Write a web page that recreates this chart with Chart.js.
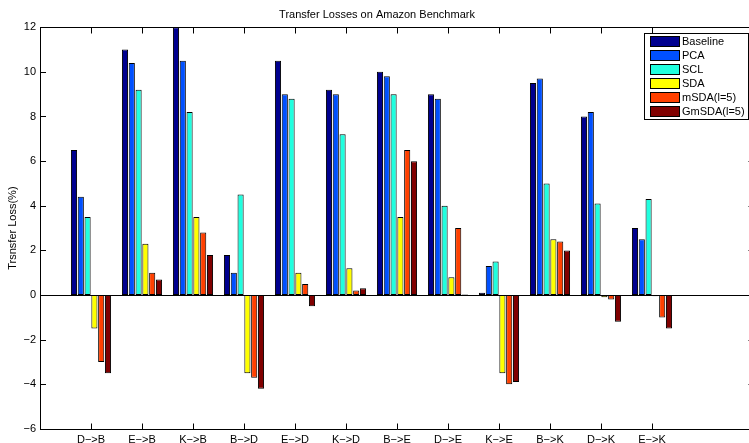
<!DOCTYPE html>
<html>
<head>
<meta charset="utf-8">
<title>Transfer Losses on Amazon Benchmark</title>
<script src="https://cdn.jsdelivr.net/npm/chart.js@4.4.1/dist/chart.umd.min.js"></script>
<style>
  html, body { margin: 0; padding: 0; background: #fff; overflow: hidden; }
</style>
</head>
<body>
<canvas id="lossChart" width="760" height="443"></canvas>
<script>
// domain adaptation pairs (source->target)
const categories = ['D\u2212>B', 'E\u2212>B', 'K\u2212>B', 'B\u2212>D', 'E\u2212>D', 'K\u2212>D',
                    'B\u2212>E', 'D\u2212>E', 'K\u2212>E', 'B\u2212>K', 'D\u2212>K', 'E\u2212>K'];

// transfer loss (%) per method
const baseline = [6.5, 11.0, 12.0, 1.8, 10.5, 9.2, 10.0, 9.0, 0.1, 9.5, 8.0, 3.0];
const pca      = [4.4, 10.4, 10.5, 1.0, 9.0, 9.0, 9.8, 8.8, 1.3, 9.7, 8.2, 2.5];
const scl      = [3.5, 9.2, 8.2, 4.5, 8.8, 7.2, 9.0, 4.0, 1.5, 5.0, 4.1, 4.3];
const sda      = [-1.5, 2.3, 3.5, -3.5, 1.0, 1.2, 3.5, 0.8, -3.5, 2.5, -0.1, -0.05];
const msda     = [-3.0, 1.0, 2.8, -3.7, 0.5, 0.2, 6.5, 3.0, -4.0, 2.4, -0.2, -1.0];
const gmsda    = [-3.5, 0.7, 1.8, -4.2, -0.5, 0.3, 6.0, 0.03, -3.9, 2.0, -1.2, -1.5];

const seriesNames = ['Baseline', 'PCA', 'SCL', 'SDA', 'mSDA(l=5)', 'GmSDA(l=5)'];
const seriesValues = [baseline, pca, scl, sda, msda, gmsda];
const seriesColors = ['#00008f', '#0050ff', '#20ffdf', '#ffff00', '#ff4000', '#800000'];

const yTicks = [-6, -4, -2, 0, 2, 4, 6, 8, 10, 12];

// matlab axis runs 0..14, so pad the category list on both ends
const xLabels = [''].concat(categories, ['', '']);
const pad = arr => [null].concat(arr, [null, null]);

const fontFamily = '"Liberation Sans", Arial, Helvetica, sans-serif';

// inward ticks, closed box, zero baseline and the boxed legend
const matlabAxes = {
  id: 'matlabAxes',
  afterDatasetsDraw(chart) {
    const ctx = chart.ctx;
    const a = chart.chartArea;
    const x = chart.scales.x;
    const y = chart.scales.y;
    const tick = 6;

    ctx.save();
    ctx.strokeStyle = '#000';
    ctx.lineWidth = 1;
    ctx.beginPath();

    const y0 = Math.round(y.getPixelForValue(0)) + 0.5;
    ctx.moveTo(a.left, y0);
    ctx.lineTo(a.right, y0);

    const top = Math.round(a.top) + 0.5;
    const right = Math.round(a.right) + 0.5;
    const bottom = Math.round(a.bottom) + 0.5;
    ctx.moveTo(a.left, top);
    ctx.lineTo(right, top);
    ctx.lineTo(right, bottom);

    yTicks.forEach(v => {
      const py = Math.round(y.getPixelForValue(v)) + 0.5;
      ctx.moveTo(a.left, py);
      ctx.lineTo(a.left + tick, py);
      ctx.moveTo(right, py);
      ctx.lineTo(right - tick, py);
    });

    categories.forEach((c, i) => {
      const px = Math.round(x.getPixelForValue(i + 1)) + 0.5;
      ctx.moveTo(px, bottom);
      ctx.lineTo(px, bottom - tick);
      ctx.moveTo(px, top);
      ctx.lineTo(px, top + tick);
    });
    ctx.stroke();

    // legend box
    const lx = 644.5, ly = 33.5, lw = 104, lh = 86;
    ctx.fillStyle = '#fff';
    ctx.fillRect(lx, ly, lw, lh);
    ctx.strokeRect(lx, ly, lw, lh);

    ctx.font = '11px ' + fontFamily;
    ctx.textBaseline = 'middle';
    ctx.textAlign = 'left';
    chart.data.datasets.forEach((ds, i) => {
      const sy = 36.5 + i * 14;
      ctx.fillStyle = ds.backgroundColor;
      ctx.fillRect(650.5, sy, 29, 10);
      ctx.strokeRect(650.5, sy, 29, 10);
      ctx.fillStyle = '#000';
      ctx.fillText(ds.label, 682, sy + 5.5);
    });
    ctx.restore();
  }
};

const ctx = document.getElementById('lossChart').getContext('2d');
const lossChart = new Chart(ctx, {
  type: 'bar',
  data: {
    labels: xLabels,
    datasets: seriesNames.map((name, i) => ({
      label: name,
      data: pad(seriesValues[i]),
      backgroundColor: seriesColors[i],
      borderColor: '#000',
      borderWidth: 1,
      borderSkipped: false,
      categoryPercentage: 0.8,
      barPercentage: 0.9
    }))
  },
  options: {
    responsive: false,
    animation: false,
    devicePixelRatio: 1,
    layout: { padding: { left: 0, right: 6, top: 0, bottom: 0 } },
    plugins: {
      legend: { display: false },
      tooltip: { enabled: false },
      title: {
        display: true,
        text: 'Transfer Losses on Amazon Benchmark',
        color: '#000',
        font: { family: fontFamily, size: 11, weight: 'normal' },
        padding: { top: 8, bottom: 6 }
      }
    },
    scales: {
      x: {
        offset: false,
        grid: { display: false, drawTicks: false },
        border: { display: true, color: '#000', width: 1 },
        ticks: {
          autoSkip: false,
          maxRotation: 0,
          padding: 4,
          color: '#000',
          font: { family: fontFamily, size: 11 }
        },
        afterFit(scale) { scale.height = 14; }
      },
      y: {
        min: -6,
        max: 12,
        grid: { display: false, drawTicks: false },
        border: { display: true, color: '#000', width: 1 },
        ticks: {
          stepSize: 2,
          padding: 4,
          color: '#000',
          font: { family: fontFamily, size: 11 },
          callback: v => v < 0 ? '\u2212' + Math.abs(v) : String(v)
        },
        title: {
          display: true,
          text: 'Trsnsfer Loss(%)',
          color: '#000',
          font: { family: fontFamily, size: 11 },
          padding: { top: 6, bottom: 0 }
        },
        afterFit(scale) { scale.width = 40; }
      }
    }
  },
  plugins: [matlabAxes]
});
</script>
</body>
</html>
